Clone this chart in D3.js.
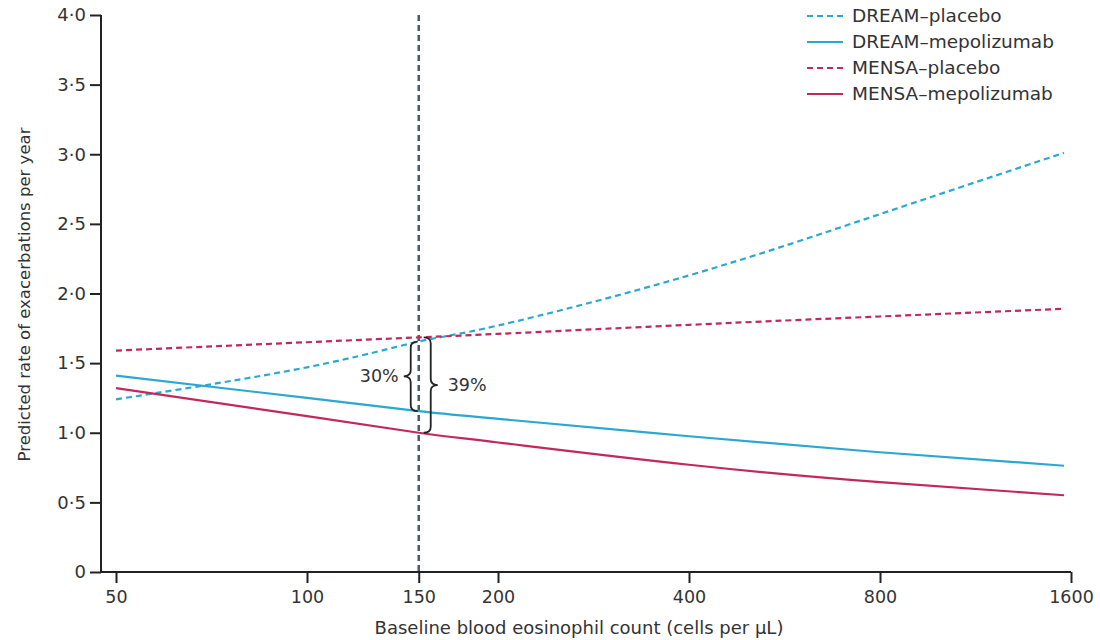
<!DOCTYPE html>
<html>
<head>
<meta charset="utf-8">
<script src="https://cdn.jsdelivr.net/npm/d3@7"></script>
<style>
  body { margin: 0; background: #fff; }
  svg text { font-family: "DejaVu Sans", sans-serif; fill: #333; }
</style>
</head>
<body>
<script>
const width = 1100;
const height = 640;

// eosinophil counts (cells per µL) at which the curves were read
const eos = [50, 100, 150, 200, 400, 800, 1560];
const dreamPlacebo = [1.24, 1.47, 1.655, 1.77, 2.13, 2.57, 3.01];
const dreamMepo    = [1.41, 1.25, 1.155, 1.10, 0.975, 0.86, 0.763];
const mensaPlacebo = [1.59, 1.65, 1.685, 1.71, 1.775, 1.835, 1.89];
const mensaMepo    = [1.32, 1.12, 1.0, 0.93, 0.77, 0.645, 0.551];

const xTicks = [50, 100, 150, 200, 400, 800, 1600];
const yTicks = [0, 0.5, 1, 1.5, 2, 2.5, 3, 3.5, 4];
const cutoff = 150;
const reductions = ['30%', '39%'];

const blue = '#2aa8d0';
const red = '#c2285a';

const series = [
  {name: 'DREAM\u2013placebo', values: dreamPlacebo, color: blue, dash: '6,4'},
  {name: 'DREAM\u2013mepolizumab', values: dreamMepo, color: blue, dash: null},
  {name: 'MENSA\u2013placebo', values: mensaPlacebo, color: red, dash: '6,4'},
  {name: 'MENSA\u2013mepolizumab', values: mensaMepo, color: red, dash: null}
];

const x = d3.scaleLog()
  .domain([50, 1600])
  .range([116, 1071]);

const y = d3.scaleLinear()
  .domain([0, 4])
  .range([572, 15]);

const axisLeftX = 101;

const svg = d3.select('body').append('svg')
  .attr('width', width).attr('height', height);

// axes
const fmt = d => d === 0 ? '0' : d3.format('.1f')(d).replace('.', '\u00b7');

const xAxis = svg.append('g')
  .attr('transform', `translate(0, ${y(0)})`)
  .call(d3.axisBottom(x).tickValues(xTicks).tickFormat(d3.format('d')).tickSize(11).tickSizeOuter(0));
xAxis.select('.domain').remove();
xAxis.selectAll('.tick line').attr('stroke', '#222').attr('stroke-width', 2);
xAxis.selectAll('.tick text').attr('font-size', 17.5).attr('dy', '0.95em');

const yAxis = svg.append('g')
  .attr('transform', `translate(${axisLeftX}, 0)`)
  .call(d3.axisLeft(y).tickValues(yTicks).tickFormat(fmt).tickSize(11).tickSizeOuter(0));
yAxis.select('.domain').remove();
yAxis.selectAll('.tick line').attr('stroke', '#222').attr('stroke-width', 2);
yAxis.selectAll('.tick text').attr('font-size', 18).attr('x', -15);

svg.append('path')
  .attr('d', `M${axisLeftX},${y(4)}V${y(0)}H${x(1600)}`)
  .attr('fill', 'none').attr('stroke', '#222').attr('stroke-width', 2);

// axis titles
svg.append('text')
  .attr('x', 579).attr('y', 634)
  .attr('text-anchor', 'middle').attr('font-size', 18)
  .text('Baseline blood eosinophil count (cells per \u00b5L)');

svg.append('text')
  .attr('transform', `translate(30, ${y(2.0) + 1}) rotate(-90)`)
  .attr('text-anchor', 'middle').attr('font-size', 16.5)
  .text('Predicted rate of exacerbations per year');

// cut-off line
svg.append('line')
  .attr('x1', x(cutoff)).attr('x2', x(cutoff))
  .attr('y1', y(4)).attr('y2', y(0))
  .attr('stroke', '#435f6f').attr('stroke-width', 2.5)
  .attr('stroke-dasharray', '6,4');

// curves
const line = d3.line()
  .x((d, i) => x(eos[i]))
  .y(d => y(d))
  .curve(d3.curveNatural);

svg.append('g').selectAll('path').data(series).enter().append('path')
  .attr('d', d => line(d.values))
  .attr('fill', 'none')
  .attr('stroke', d => d.color)
  .attr('stroke-width', 2.2)
  .attr('stroke-dasharray', d => d.dash);

// braces showing reductions at the cut-off
const ci = eos.indexOf(cutoff);
function brace(x0, top, bot, dir) {
  // dir: -1 points left, +1 points right
  const mid = (top + bot) / 2;
  const w = 7 * dir;
  const xs = x0 + w; // spine
  const r = 6;
  return `M${x0},${top}` +
    `Q${xs},${top} ${xs},${top + r}` +
    `L${xs},${mid - r}` +
    `Q${xs},${mid} ${xs + w},${mid}` +
    `Q${xs},${mid} ${xs},${mid + r}` +
    `L${xs},${bot - r}` +
    `Q${xs},${bot} ${x0},${bot}`;
}

const bx = x(cutoff);
const dTop = y(dreamPlacebo[ci]), dBot = y(dreamMepo[ci]);
const mTop = y(mensaPlacebo[ci]), mBot = y(mensaMepo[ci]);

svg.append('path')
  .attr('d', brace(bx - 1, dTop, dBot, -1))
  .attr('fill', 'none').attr('stroke', '#222').attr('stroke-width', 1.8);
svg.append('path')
  .attr('d', brace(bx + 5, mTop, mBot, 1))
  .attr('fill', 'none').attr('stroke', '#222').attr('stroke-width', 1.8);

svg.append('text')
  .attr('x', bx - 20).attr('y', (dTop + dBot) / 2).attr('dy', '0.35em')
  .attr('text-anchor', 'end').attr('font-size', 17.5)
  .text(reductions[0]);
svg.append('text')
  .attr('x', bx + 29).attr('y', (mTop + mBot) / 2).attr('dy', '0.35em')
  .attr('font-size', 17.5)
  .text(reductions[1]);

// legend
const legend = svg.append('g').attr('transform', 'translate(807, 16)');
const item = legend.selectAll('g').data(series).enter().append('g')
  .attr('transform', (d, i) => `translate(0, ${i * 26})`);
item.append('line')
  .attr('x1', 0).attr('x2', 36)
  .attr('stroke', d => d.color).attr('stroke-width', 2.2)
  .attr('stroke-dasharray', d => d.dash);
item.append('text')
  .attr('x', 45).attr('dy', '0.35em').attr('font-size', 18.5)
  .text(d => d.name);
</script>
</body>
</html>
